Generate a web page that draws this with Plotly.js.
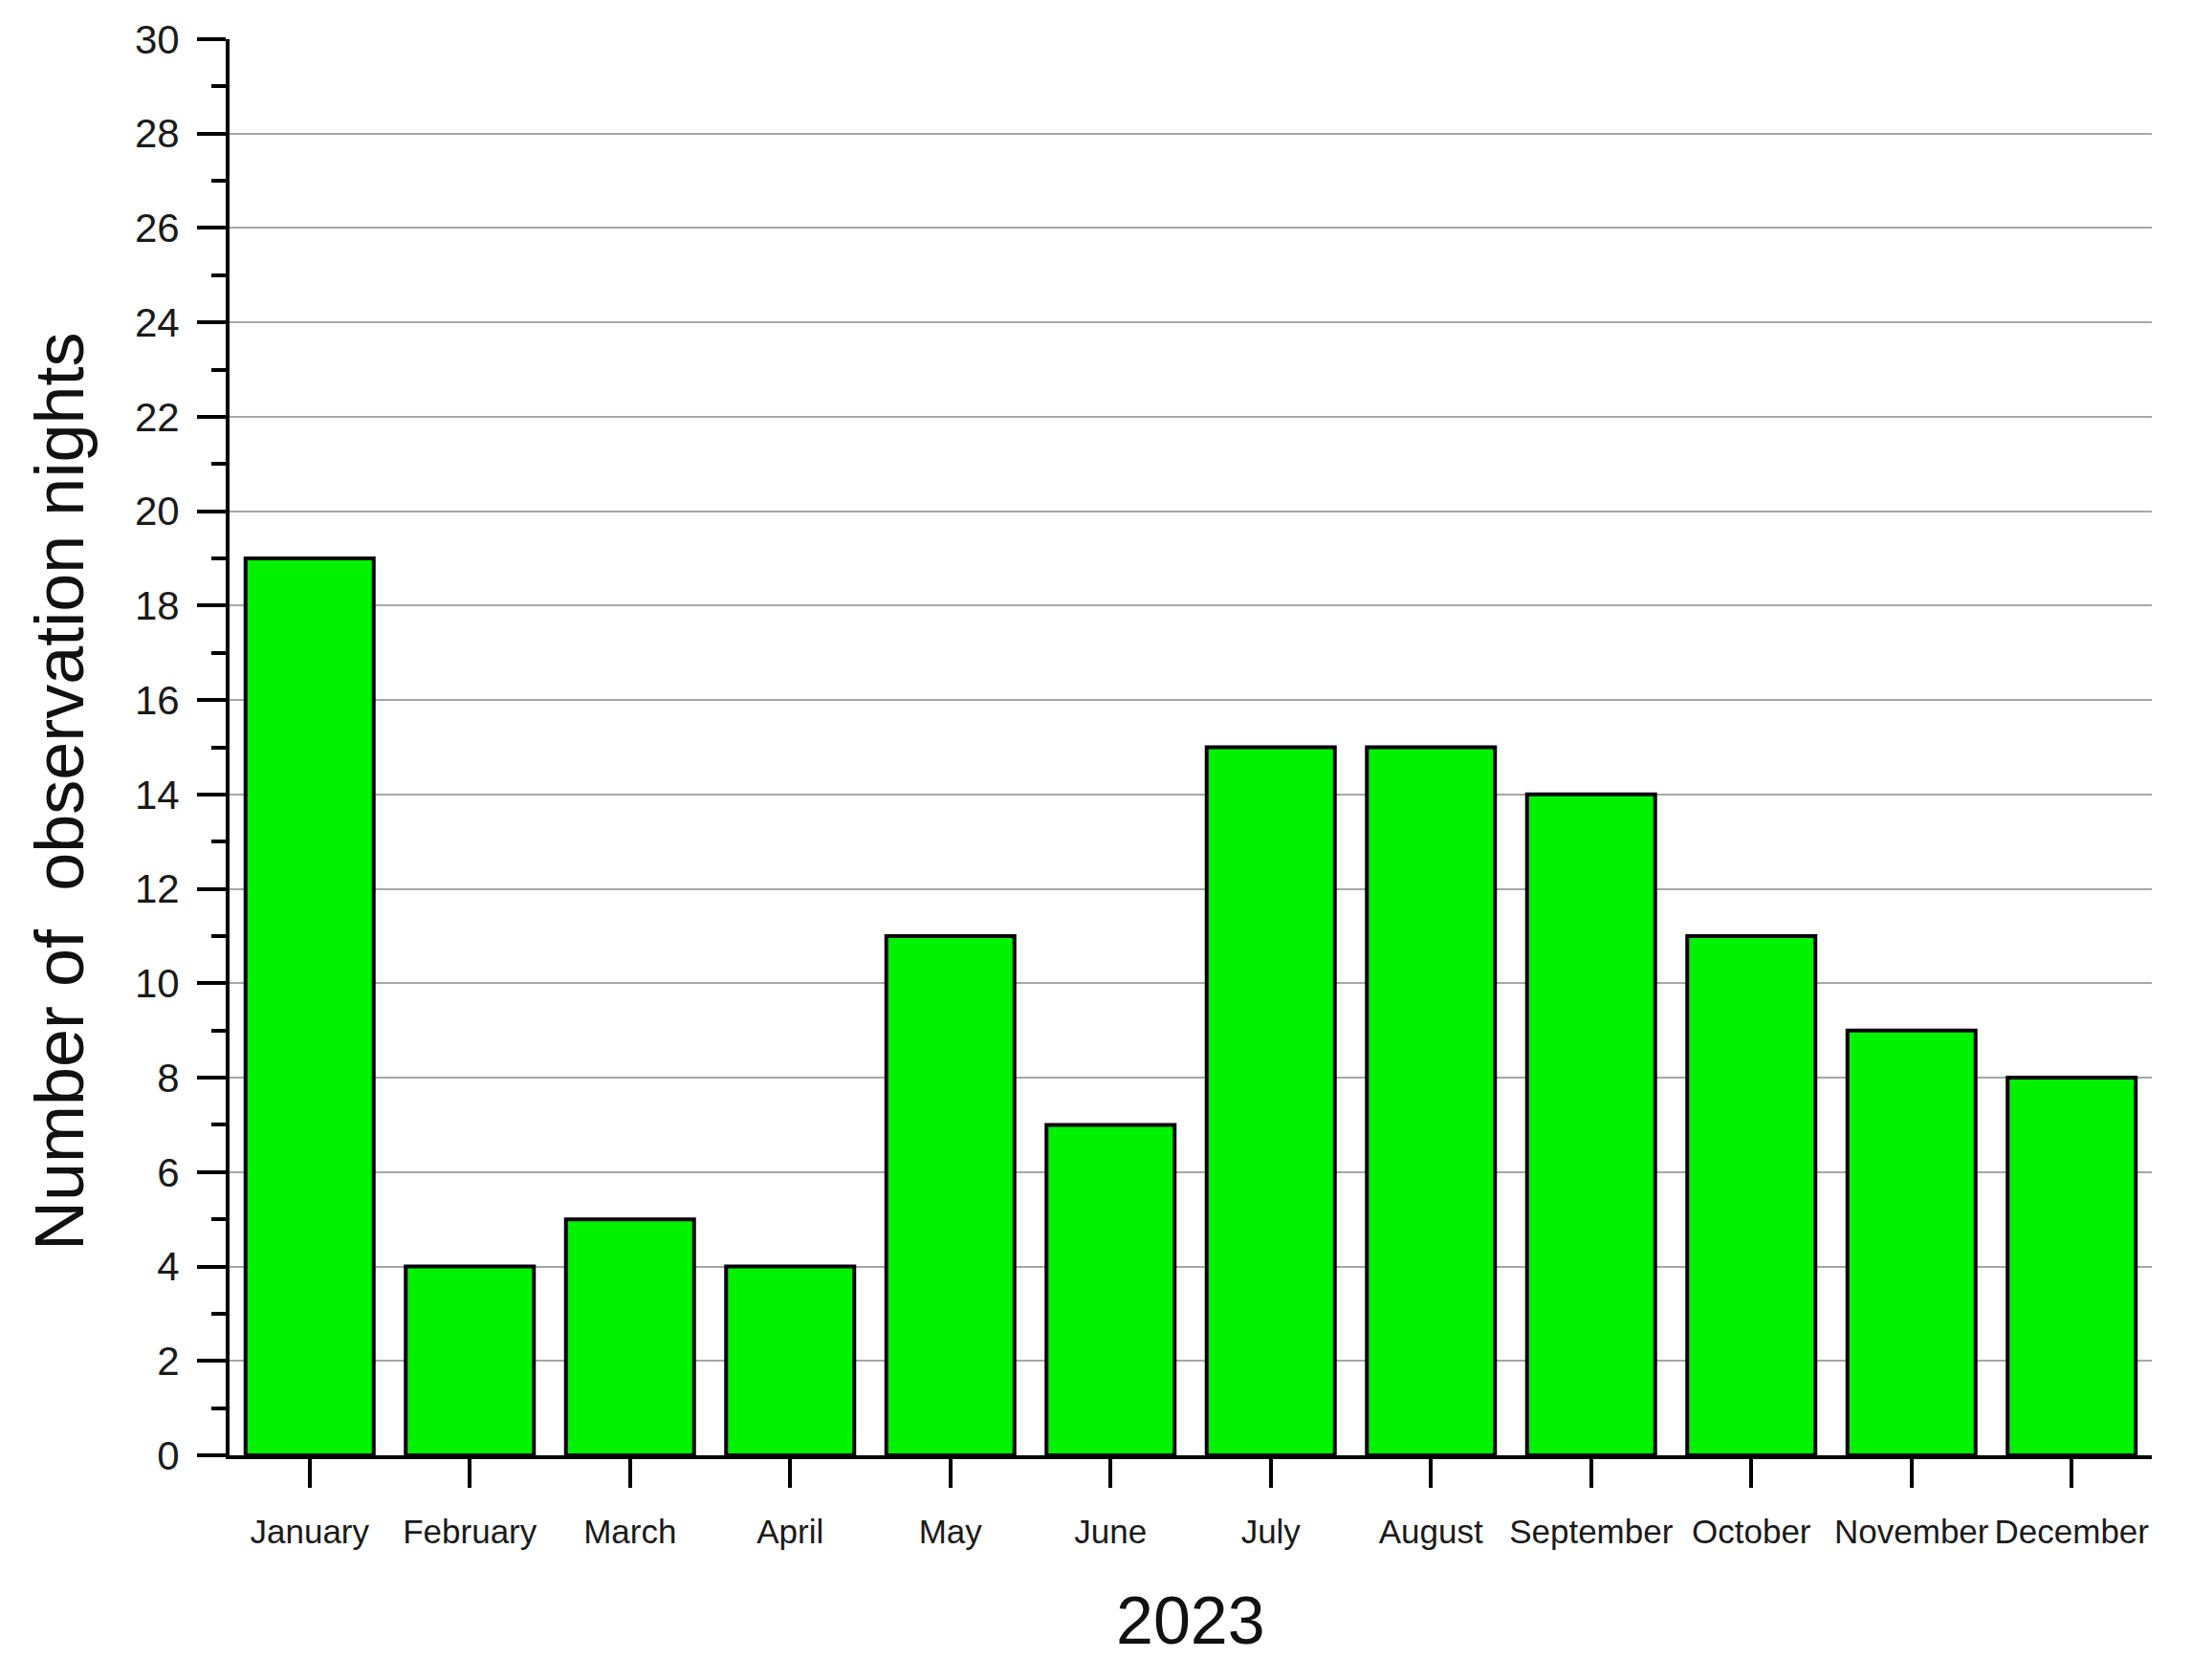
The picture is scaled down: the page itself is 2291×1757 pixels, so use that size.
<!DOCTYPE html>
<html>
<head>
<meta charset="utf-8">
<script src="https://cdn.plot.ly/plotly-3.0.1.min.js"></script>
<style>html,body{margin:0;padding:0;background:#fff;}#chart{width:2291px;height:1757px;}</style>
</head>
<body>
<div id="chart"></div>
<script>
const months = ["January","February","March","April","May","June","July","August","September","October","November","December"];
const nights = [19, 4, 5, 4, 11, 7, 15, 15, 14, 11, 9, 8];
const yTickVals = [0,2,4,6,8,10,12,14,16,18,20,22,24,26,28,30];
const xTitle = "2023";
const yTitle = "Number of  observation nights";

const W = 2291, H = 1757;
const L = 240, R = 41, T = 41, B = 235;
const pw = W - L - R, ph = H - T - B;
const FONT = 'Arial, "Liberation Sans", sans-serif';

const trace = {
  type: 'bar',
  x: months,
  y: nights,
  marker: {color: '#00f200', line: {color: '#000000', width: 4}},
  hoverinfo: 'x+y'
};

const layout = {
  width: W, height: H,
  margin: {l: L, r: R, t: T, b: B, pad: 0},
  paper_bgcolor: '#ffffff',
  plot_bgcolor: '#ffffff',
  bargap: 0.2,
  showlegend: false,
  font: {family: FONT, color: '#000'},
  xaxis: {
    type: 'category',
    range: [-0.5, 11.5],
    showline: true, linecolor: '#000', linewidth: 4,
    ticks: 'outside', ticklen: 30, tickwidth: 4, tickcolor: '#000',
    ticklabelstandoff: 16,
    tickfont: {family: FONT, size: 35, color: '#1a1a1a'},
    showgrid: false, zeroline: false,
    fixedrange: true
  },
  yaxis: {
    range: [0, 30],
    tickvals: yTickVals,
    showline: true, linecolor: '#000', linewidth: 4,
    ticks: 'outside', ticklen: 30, tickwidth: 4, tickcolor: '#000',
    ticklabelstandoff: 10,
    tickfont: {family: FONT, size: 42, color: '#1a1a1a'},
    showgrid: true, gridcolor: '#a6a6a6', gridwidth: 2,
    zeroline: false,
    minor: {dtick: 1, ticks: 'outside', ticklen: 15, tickwidth: 4, tickcolor: '#000', showgrid: false},
    fixedrange: true
  },
  annotations: [
    {text: xTitle, xref: 'paper', yref: 'paper', x: (1245 - L) / pw, y: (H - B - 1695) / ph,
     xanchor: 'center', yanchor: 'middle', showarrow: false,
     font: {family: FONT, size: 70, color: '#111'}},
    {text: yTitle, xref: 'paper', yref: 'paper', x: (62 - L) / pw, y: (H - B - 828) / ph,
     xanchor: 'center', yanchor: 'middle', textangle: -90, showarrow: false,
     font: {family: FONT, size: 72, color: '#111'}}
  ]
};

Plotly.newPlot('chart', [trace], layout, {displayModeBar: false, staticPlot: true});
</script>
</body>
</html>
